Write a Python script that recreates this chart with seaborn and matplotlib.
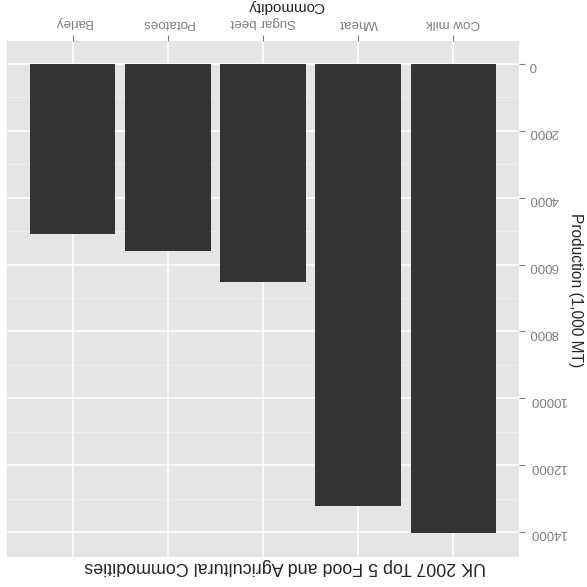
import numpy as np
import pandas as pd
import matplotlib
matplotlib.use('Agg')
import matplotlib.pyplot as plt
import seaborn as sns

# Data (original left-to-right order; picture is shown rotated 180 degrees)
commodities = ['Cow milk', 'Wheat', 'Sugar beet', 'Potatoes', 'Barley']
production = [14020, 13222, 6510, 5610, 5090]
y_major = [0, 2000, 4000, 6000, 8000, 10000, 12000, 14000]
y_minor = [1000, 3000, 5000, 7000, 9000, 11000, 13000]

df = pd.DataFrame({'Commodity': commodities, 'Production': production})

sns.set_style('white')
plt.rcParams['font.family'] = ['Liberation Sans', 'DejaVu Sans']

fig = plt.figure(figsize=(5.87, 5.87), dpi=100)
ax = fig.add_axes([7 / 587, 30 / 587, 512 / 587, 516 / 587])
ax.set_facecolor('#E5E5E5')

sns.barplot(data=df, x='Commodity', y='Production', order=commodities,
            color='#333333', saturation=1, width=0.9, ax=ax,
            edgecolor='none', linewidth=0, zorder=3)

# upside-down view
top = max(production)
ax.set_xlim(len(commodities) - 1 + 0.69, -0.69)
ax.set_ylim(top * 1.052, -0.049 * top)

ax.set_yticks(y_major)
ax.set_yticks(y_minor, minor=True)
ax.grid(True, which='major', color='white', linewidth=1.1, zorder=0)
ax.grid(True, which='minor', axis='y', color='#F2F2F2', linewidth=0.6, zorder=0)
ax.set_axisbelow(True)
for s in ax.spines.values():
    s.set_visible(False)

ax.xaxis.tick_top()
ax.yaxis.tick_right()
ax.tick_params(axis='both', which='major', length=4, width=0.8, color='#7F7F7F',
               labelcolor='#7F7F7F', labelsize=9.6)
ax.tick_params(axis='x', which='major', pad=5)
ax.tick_params(axis='y', which='major', pad=3)
ax.tick_params(axis='y', which='minor', length=0)
ax.set_xticks(range(len(commodities)))
ax.set_xticklabels(commodities, rotation=180)
ax.set_yticklabels([str(v) for v in y_major], rotation=180)

ax.set_xlabel('')
ax.set_ylabel('')
fig.text(286 / 587, 0.989, 'Commodity', rotation=180, ha='center', va='center', fontsize=11)
fig.text(576 / 587, 1 - 290 / 587, 'Production (1,000 MT)', rotation=-90,
         ha='center', va='center', fontsize=11.2)
fig.text(285.5 / 587, 1 - 566 / 587, 'UK 2007 Top 5 Food and Agricultural Commodities',
         rotation=180, ha='center', va='center', fontsize=12.9)

fig.savefig('out.png', dpi=100, facecolor='white')
